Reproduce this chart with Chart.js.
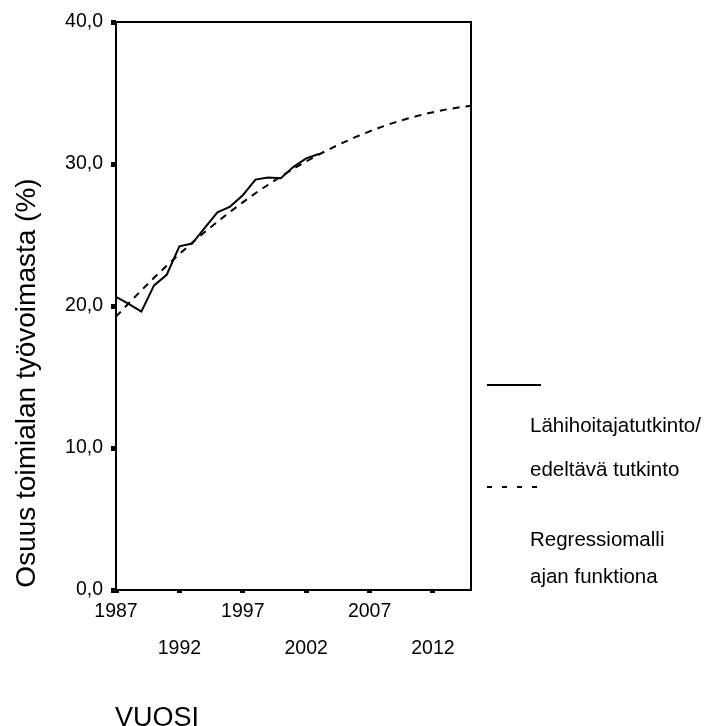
<!DOCTYPE html>
<html>
<head>
<meta charset="utf-8">
<style>
  html, body { margin: 0; padding: 0; background: #fff; }
  #wrap { width: 706px; height: 726px; }
</style>
<script src="https://cdn.jsdelivr.net/npm/chart.js@4/dist/chart.umd.min.js"></script>
</head>
<body>
<div id="wrap"><canvas id="c" width="706" height="726"></canvas></div>
<script>
// Observed share of the workforce (%)
const observedYears = [1987, 1988, 1989, 1990, 1991, 1992, 1993, 1994, 1995, 1996, 1997, 1998, 1999, 2000, 2001, 2002, 2003];
const observedValues = [20.65, 20.15, 19.6, 21.45, 22.2, 24.2, 24.4, 25.5, 26.6, 27.0, 27.8, 28.9, 29.05, 29.0, 29.8, 30.4, 30.7];

// Regression model as a function of time
const modelYears = [1987, 1988, 1989, 1990, 1991, 1992, 1993, 1994, 1995, 1996, 1997, 1998, 1999, 2000, 2001,
                    2002, 2003, 2004, 2005, 2006, 2007, 2008, 2009, 2010, 2011, 2012, 2013, 2014, 2015];
const modelValues = [19.25, 20.19, 21.10, 21.99, 22.84, 23.66, 24.45, 25.21, 25.93, 26.63, 27.30, 27.94, 28.54, 29.12, 29.67,
                     30.18, 30.67, 31.12, 31.54, 31.94, 32.30, 32.63, 32.93, 33.20, 33.44, 33.65, 33.83, 33.98, 34.10];

const xTickYears = [1987, 1992, 1997, 2002, 2007, 2012];
const yTickValues = [0, 10, 20, 30, 40];

const legendLines = [
  ['Lähihoitajatutkinto/', 'edeltävä tutkinto'],
  ['Regressiomalli', 'ajan funktiona']
];
const xTitle = 'VUOSI';
const yTitle = 'Osuus toimialan työvoimasta (%)';

const FONT = '"Liberation Sans", Arial, Helvetica, sans-serif';

const zip = (xs, ys) => xs.map((x, i) => ({ x: x, y: ys[i] }));

// Frame, axis titles and the legend block on the right
const decor = {
  id: 'decor',
  afterDatasetsDraw(chart) {
    const { ctx, chartArea: a } = chart;
    ctx.save();
    ctx.strokeStyle = '#000';
    ctx.lineWidth = 2;
    ctx.strokeRect(a.left, a.top, a.right - a.left, a.bottom - a.top);

    ctx.fillStyle = '#000';
    // y title
    ctx.save();
    ctx.font = '28px ' + FONT;
    ctx.translate(35, 383);
    ctx.rotate(-Math.PI / 2);
    ctx.textAlign = 'center';
    ctx.textBaseline = 'alphabetic';
    ctx.fillText(yTitle, 0, 0);
    ctx.restore();

    // x title
    ctx.font = '27px ' + FONT;
    ctx.textAlign = 'left';
    ctx.textBaseline = 'alphabetic';
    ctx.fillText(xTitle, a.left - 1, 726);

    // legend
    const lx0 = a.right + 16, lx1 = a.right + 70;
    ctx.lineWidth = 2;
    ctx.beginPath();
    ctx.moveTo(lx0, 385);
    ctx.lineTo(lx1, 385);
    ctx.stroke();
    ctx.setLineDash([5, 10]);
    ctx.beginPath();
    ctx.moveTo(lx0, 487);
    ctx.lineTo(lx1 + 2, 487);
    ctx.stroke();
    ctx.setLineDash([]);

    ctx.font = '20.5px ' + FONT;
    const tx = a.right + 59;
    ctx.fillText(legendLines[0][0], tx, 432);
    ctx.fillText(legendLines[0][1], tx, 476);
    ctx.fillText(legendLines[1][0], tx, 546);
    ctx.fillText(legendLines[1][1], tx, 583);
    ctx.restore();
  }
};

new Chart(document.getElementById('c'), {
  type: 'line',
  data: {
    datasets: [
      {
        label: legendLines[0].join(' '),
        data: zip(observedYears, observedValues),
        borderColor: '#000',
        borderWidth: 2,
        pointRadius: 0,
        tension: 0,
        fill: false
      },
      {
        label: legendLines[1].join(' '),
        data: zip(modelYears, modelValues),
        borderColor: '#000',
        borderWidth: 2,
        borderDash: [7, 6],
        pointRadius: 0,
        tension: 0,
        fill: false
      }
    ]
  },
  options: {
    responsive: false,
    animation: false,
    layout: { padding: { left: 0, top: 22, right: 235, bottom: 0 } },
    plugins: { legend: { display: false }, tooltip: { enabled: false } },
    scales: {
      x: {
        type: 'linear',
        min: 1987,
        max: 2015,
        afterFit(s) { s.height = 136; },
        afterBuildTicks(s) { s.ticks = xTickYears.map(v => ({ value: v })); },
        border: { display: false },
        grid: { drawOnChartArea: false, drawTicks: true, tickLength: 3, tickWidth: 5, tickColor: '#000' },
        ticks: {
          color: '#000',
          padding: 0,
          maxRotation: 0,
          autoSkip: false,
          font: { family: FONT, size: 19.5, lineHeight: 1.9 },
          callback(v) {
            const i = xTickYears.indexOf(v);
            return i % 2 === 0 ? [String(v)] : ['', String(v)];
          }
        }
      },
      y: {
        min: 0,
        max: 40,
        afterFit(s) { s.width = 116; },
        afterBuildTicks(s) { s.ticks = yTickValues.map(v => ({ value: v })); },
        border: { display: false },
        grid: { drawOnChartArea: false, drawTicks: true, tickLength: 5, tickWidth: 5, tickColor: '#000' },
        ticks: {
          color: '#000',
          padding: 8,
          font: { family: FONT, size: 19.5 },
          callback(v) { return v.toFixed(1).replace('.', ','); }
        }
      }
    }
  },
  plugins: [decor]
});
</script>
</body>
</html>
